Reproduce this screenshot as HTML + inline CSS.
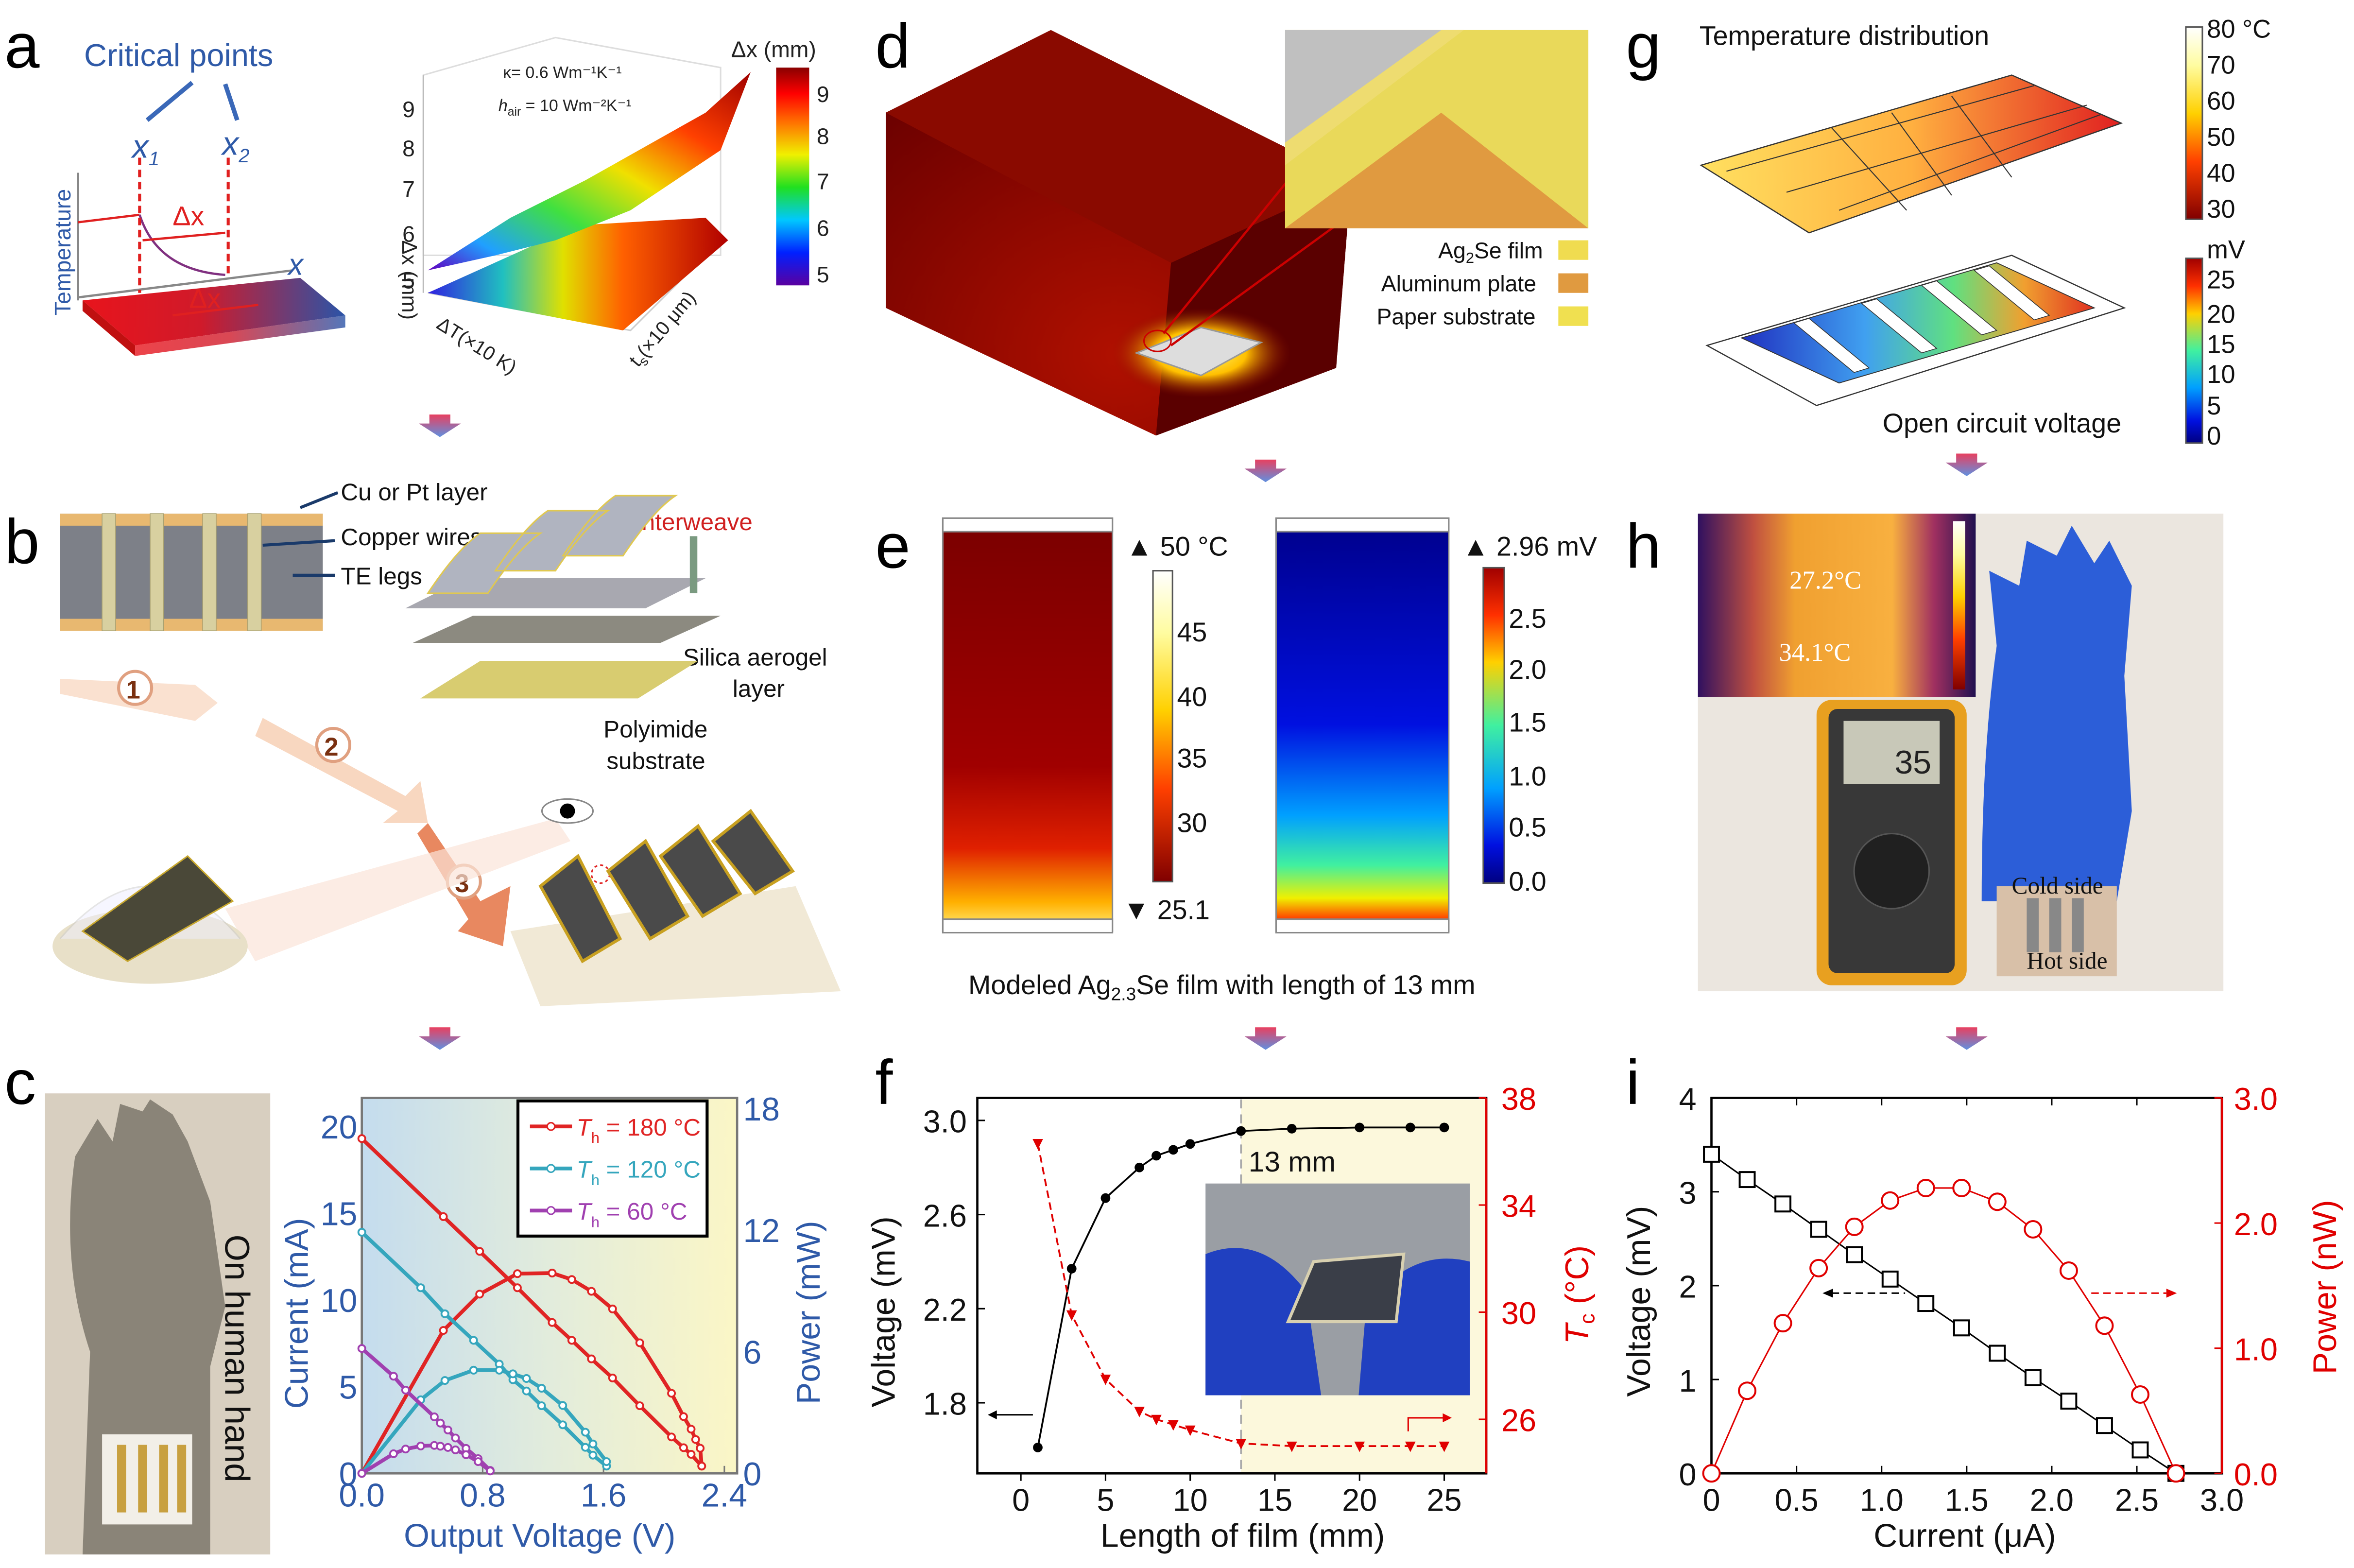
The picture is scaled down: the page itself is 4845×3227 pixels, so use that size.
<!DOCTYPE html>
<html><head><meta charset="utf-8"><style>
html,body{margin:0;padding:0;background:#fff;}
svg{display:block;font-family:"Liberation Sans",Arial,sans-serif;}
</style></head><body>
<svg id="fig" width="4845" height="3227" viewBox="0 0 1568 1044" preserveAspectRatio="none" xmlns="http://www.w3.org/2000/svg">
<defs>
<linearGradient id="slab" x1="0" x2="1"><stop offset="0" stop-color="#e8141c"/><stop offset="0.45" stop-color="#d01a2a"/><stop offset="1" stop-color="#2a54a8"/></linearGradient>
<linearGradient id="rainbow" x1="0" y1="1" x2="0" y2="0"><stop offset="0" stop-color="#5a00a0"/><stop offset="0.15" stop-color="#0020ff"/><stop offset="0.3" stop-color="#00c8ff"/><stop offset="0.45" stop-color="#20e020"/><stop offset="0.6" stop-color="#f0f000"/><stop offset="0.75" stop-color="#ff7000"/><stop offset="0.88" stop-color="#ff0000"/><stop offset="1" stop-color="#8a0000"/></linearGradient>
<linearGradient id="surf" x1="0" y1="1" x2="1" y2="0"><stop offset="0" stop-color="#6000c0"/><stop offset="0.15" stop-color="#20a0ff"/><stop offset="0.35" stop-color="#40e040"/><stop offset="0.55" stop-color="#f0e000"/><stop offset="0.75" stop-color="#ff4000"/><stop offset="1" stop-color="#a00000"/></linearGradient>
<linearGradient id="floor" x1="0" x2="1"><stop offset="0" stop-color="#3020e0"/><stop offset="0.25" stop-color="#20c0c0"/><stop offset="0.45" stop-color="#e0e000"/><stop offset="0.65" stop-color="#ff6000"/><stop offset="1" stop-color="#b00000"/></linearGradient>
<linearGradient id="vline1" x1="0" y1="0" x2="0" y2="1"><stop offset="0" stop-color="#4040c0"/><stop offset="0.4" stop-color="#40b0e0"/><stop offset="0.7" stop-color="#a0e070"/><stop offset="1" stop-color="#f08030"/></linearGradient>
<linearGradient id="cbg" x1="0" x2="1"><stop offset="0" stop-color="#c4dcee"/><stop offset="0.5" stop-color="#e2ecdc"/><stop offset="1" stop-color="#fbf6c6"/></linearGradient>
<linearGradient id="tempcol" x1="0" y1="0" x2="0" y2="1"><stop offset="0" stop-color="#7a0000"/><stop offset="0.6" stop-color="#a00000"/><stop offset="0.8" stop-color="#e02000"/><stop offset="0.93" stop-color="#ffb000"/><stop offset="1" stop-color="#fff080"/></linearGradient>
<linearGradient id="voltcol" x1="0" y1="0" x2="0" y2="1"><stop offset="0" stop-color="#00008a"/><stop offset="0.5" stop-color="#0010e0"/><stop offset="0.72" stop-color="#00a0ff"/><stop offset="0.84" stop-color="#40f0a0"/><stop offset="0.92" stop-color="#f0f000"/><stop offset="0.97" stop-color="#ff4000"/><stop offset="1" stop-color="#c00000"/></linearGradient>
<linearGradient id="cbT" x1="0" y1="0" x2="0" y2="1"><stop offset="0" stop-color="#ffffff"/><stop offset="0.2" stop-color="#fffca0"/><stop offset="0.45" stop-color="#ffd000"/><stop offset="0.7" stop-color="#ff4000"/><stop offset="1" stop-color="#800000"/></linearGradient>
<linearGradient id="cbV" x1="0" y1="0" x2="0" y2="1"><stop offset="0" stop-color="#a00000"/><stop offset="0.15" stop-color="#ff3000"/><stop offset="0.3" stop-color="#ffd000"/><stop offset="0.5" stop-color="#40f0a0"/><stop offset="0.7" stop-color="#00a0ff"/><stop offset="0.88" stop-color="#0010e0"/><stop offset="1" stop-color="#000080"/></linearGradient>
<linearGradient id="gslab1" x1="0" x2="1"><stop offset="0" stop-color="#ffe060"/><stop offset="0.5" stop-color="#ffb040"/><stop offset="1" stop-color="#e02020"/></linearGradient>
<linearGradient id="gslab2" x1="0" x2="1"><stop offset="0" stop-color="#2030c0"/><stop offset="0.35" stop-color="#40a0f0"/><stop offset="0.6" stop-color="#60e080"/><stop offset="0.8" stop-color="#f0a030"/><stop offset="1" stop-color="#e03020"/></linearGradient>
<linearGradient id="ir" x1="0" x2="1"><stop offset="0" stop-color="#301060"/><stop offset="0.2" stop-color="#c05040"/><stop offset="0.35" stop-color="#f0a030"/><stop offset="0.7" stop-color="#f8b040"/><stop offset="0.85" stop-color="#a03060"/><stop offset="1" stop-color="#201050"/></linearGradient>
<linearGradient id="arrowg" x1="0" y1="0" x2="0" y2="1"><stop offset="0" stop-color="#e84060"/><stop offset="1" stop-color="#6090e0"/></linearGradient>
<radialGradient id="glow" cx="0.5" cy="0.5" r="0.5"><stop offset="0" stop-color="#ffff80"/><stop offset="0.5" stop-color="#ffc000"/><stop offset="1" stop-color="#8a0a00" stop-opacity="0"/></radialGradient>
<radialGradient id="dred" cx="0.5" cy="0.8" r="0.8"><stop offset="0" stop-color="#b01000"/><stop offset="1" stop-color="#6a0000"/></radialGradient>
</defs>

<line x1="567" y1="20" x2="567" y2="980" stroke="url(#vline1)" stroke-width="2" stroke-dasharray="8,5"/>
<line x1="1075" y1="20" x2="1075" y2="980" stroke="url(#vline1)" stroke-width="2" stroke-dasharray="8,5"/>

<g font-size="42" fill="#000">
<text x="3" y="45">a</text>
<text x="3" y="375">b</text>
<text x="3" y="735">c</text>
<text x="583" y="45">d</text>
<text x="583" y="378">e</text>
<text x="583" y="735">f</text>
<text x="1083" y="45">g</text>
<text x="1083" y="378">h</text>
<text x="1083" y="735">i</text>
</g>

<g>
<text x="56" y="44" font-size="21" fill="#2f5aa8">Critical points</text>
<line x1="98" y1="80" x2="128" y2="55" stroke="#3a68b8" stroke-width="3"/>
<line x1="158" y1="80" x2="150" y2="56" stroke="#3a68b8" stroke-width="3"/>
<text x="88" y="105" font-size="22" font-style="italic" fill="#2f5aa8">x<tspan font-size="13" dy="5">1</tspan></text>
<text x="148" y="103" font-size="22" font-style="italic" fill="#2f5aa8">x<tspan font-size="13" dy="5">2</tspan></text>
<polygon points="55,200 200,185 230,210 90,230" fill="url(#slab)"/>
<polygon points="55,200 90,230 90,237 55,207" fill="#c01010"/>
<polygon points="90,230 230,210 230,218 90,237" fill="url(#slab)" opacity="0.8"/>
<line x1="52" y1="200" x2="52" y2="115" stroke="#888" stroke-width="1.5"/>
<line x1="52" y1="198" x2="195" y2="180" stroke="#888" stroke-width="1.5"/>
<text x="192" y="183" font-size="20" font-style="italic" fill="#2f5aa8">x</text>
<text transform="translate(47,210) rotate(-90)" font-size="15" fill="#2f5aa8">Temperature</text>
<polyline points="52,148 93,143" fill="none" stroke="#e02020" stroke-width="1.5"/>
<path d="M93,143 Q105,180 150,183" fill="none" stroke="#803080" stroke-width="1.5"/>
<line x1="93" y1="105" x2="93" y2="195" stroke="#e02020" stroke-width="2" stroke-dasharray="5,3"/>
<line x1="152" y1="105" x2="152" y2="185" stroke="#e02020" stroke-width="2" stroke-dasharray="5,3"/>
<line x1="95" y1="160" x2="150" y2="155" stroke="#e02020" stroke-width="1.5"/>
<text x="115" y="150" font-size="18" fill="#e02020">Δx</text>
<text x="126" y="205" font-size="18" fill="#e02020">Δx</text>
<line x1="115" y1="210" x2="172" y2="203" stroke="#e02020" stroke-width="1.5"/>
</g>

<g>
<polygon points="282,50 370,25 480,45 480,170 282,170" fill="none" stroke="#ddd"/>
<line x1="282" y1="50" x2="282" y2="195" stroke="#bbb"/>
<polygon points="285,195 415,210 470,155 480,160 420,220" fill="#fff" stroke="#ccc"/>
<polygon points="285,195 385,150 470,145 485,160 415,220" fill="url(#floor)"/>
<polygon points="285,180 340,145 390,120 470,75 500,48 480,100 420,140 370,160 330,170" fill="url(#surf)"/>
<g font-size="15" fill="#222">
<text x="268" y="192">5</text><text x="268" y="161">6</text><text x="268" y="131">7</text><text x="268" y="104">8</text><text x="268" y="78">9</text>
</g>
<text transform="translate(268,160) rotate(90)" font-size="14" fill="#222">Δx (mm)</text>
<text x="335" y="52" font-size="11" fill="#222">κ= 0.6 Wm⁻¹K⁻¹</text>
<text x="332" y="74" font-size="11" fill="#222"><tspan font-style="italic">h</tspan><tspan font-size="8" dy="3">air</tspan><tspan dy="-3"> = 10 Wm⁻²K⁻¹</tspan></text>
<text transform="translate(290,218) rotate(32)" font-size="13" fill="#222">ΔT(×10 K)</text>
<text transform="translate(425,245) rotate(-50)" font-size="13" fill="#222">t<tspan font-size="9" dy="3">s</tspan><tspan dy="-3">(×10 μm)</tspan></text>
<text x="487" y="38" font-size="15" fill="#222">Δx (mm)</text>
<rect x="517" y="45" width="22" height="145" fill="url(#rainbow)"/>
<g font-size="15" fill="#222"><text x="544" y="68">9</text><text x="544" y="96">8</text><text x="544" y="126">7</text><text x="544" y="157">6</text><text x="544" y="188">5</text></g>
</g>

<g fill="url(#arrowg)">
<polygon points="286,276 300,276 300,282 307,282 293,291 279,282 286,282"/>
<polygon points="286,684 300,684 300,690 307,690 293,699 279,690 286,690"/>
<polygon points="836,306 850,306 850,312 857,312 843,321 829,312 836,312"/>
<polygon points="836,684 850,684 850,690 857,690 843,699 829,690 836,690"/>
<polygon points="1303,302 1317,302 1317,308 1324,308 1310,317 1296,308 1303,308"/>
<polygon points="1303,684 1317,684 1317,690 1324,690 1310,699 1296,690 1303,690"/>
</g>

<g>
<rect x="40" y="342" width="175" height="78" fill="#7d8088"/>
<rect x="40" y="342" width="175" height="8" fill="#e8b870"/>
<rect x="40" y="412" width="175" height="8" fill="#e8b870"/>
<g fill="#d8d0a0" stroke="#a8a070" stroke-width="0.5">
<rect x="68" y="342" width="9" height="78"/><rect x="100" y="342" width="9" height="78"/><rect x="135" y="342" width="9" height="78"/><rect x="165" y="342" width="9" height="78"/>
</g>
<g font-size="16" fill="#111">
<text x="227" y="333">Cu or Pt layer</text>
<text x="227" y="363">Copper wires</text>
<text x="227" y="389">TE legs</text>
<text x="423" y="353" fill="#d02020">Interweave</text>
<text x="455" y="443">Silica aerogel</text>
<text x="488" y="464">layer</text>
<text x="402" y="491">Polyimide</text>
<text x="404" y="512">substrate</text>
</g>
<line x1="200" y1="338" x2="225" y2="328" stroke="#1a3a6a" stroke-width="2"/>
<line x1="175" y1="363" x2="223" y2="360" stroke="#1a3a6a" stroke-width="2"/>
<line x1="195" y1="383" x2="223" y2="383" stroke="#1a3a6a" stroke-width="2"/>
<polygon points="270,405 430,405 470,385 310,385" fill="#a8a8b0"/>
<polygon points="275,428 440,428 480,410 315,410" fill="#8c8a80"/>
<polygon points="280,465 425,465 465,440 320,440" fill="#d8cc70"/>
<path d="M285,395 q20,-30 35,-40 l40,0 q-15,10 -35,40 z M330,380 q20,-30 35,-40 l40,0 q-15,10 -35,40z M375,370 q20,-30 35,-40 l40,0 q-15,10 -35,40z" fill="#b0b4c0" stroke="#e0c850"/>
<line x1="462" y1="357" x2="462" y2="395" stroke="#7a9a80" stroke-width="5"/>
<g fill="#f6cdb0"><path d="M40,452 L130,456 L145,468 L130,480 L40,462 Z" opacity="0.6"/><path d="M175,478 L270,530 L280,520 L285,548 L255,548 L265,540 L170,490Z" opacity="0.8"/><path d="M285,548 L320,600 L340,590 L335,630 L305,620 L312,612 L278,555Z" fill="#e88860"/></g>
<circle cx="90" cy="458" r="11" fill="#fff" stroke="#e0a080" stroke-width="2"/><text x="84" y="465" font-size="17" font-weight="bold" fill="#7a3010">1</text>
<circle cx="222" cy="496" r="11" fill="#fff" stroke="#e0a080" stroke-width="2"/><text x="216" y="503" font-size="17" font-weight="bold" fill="#7a3010">2</text>
<circle cx="309" cy="587" r="11" fill="#fff" stroke="#e0a080" stroke-width="2"/><text x="303" y="594" font-size="17" font-weight="bold" fill="#7a3010">3</text>
<polygon points="150,605 370,545 380,560 170,640" fill="#fbe4d8" opacity="0.7"/>
<ellipse cx="100" cy="630" rx="65" ry="25" fill="#e8e0c8"/>
<path d="M40,625 q60,-70 120,0" fill="#eef" opacity="0.5" stroke="#ccc"/>
<polygon points="55,620 125,570 155,600 85,640" fill="#4a4838" stroke="#c8a830"/>
<polygon points="340,620 530,590 560,660 360,670" fill="#eee4cc" opacity="0.8"/>
<ellipse cx="378" cy="540" rx="17" ry="8" fill="#fff" stroke="#888"/><circle cx="378" cy="540" r="5" fill="#000"/>
<circle cx="400" cy="582" r="6" fill="none" stroke="#e02020" stroke-dasharray="2,2"/>
<g fill="#4a4a4a" stroke="#c8a020" stroke-width="2"><path d="M360,590 l25,-20 l28,55 l-25,15z"/><path d="M405,580 l25,-20 l28,50 l-25,15z"/><path d="M440,570 l25,-20 l28,45 l-25,15z"/><path d="M475,560 l25,-20 l28,40 l-25,15z"/></g>
</g>

<g>
<rect x="30" y="728" width="150" height="307" fill="#d8cfc0"/>
<path d="M55,1035 L60,900 Q40,840 50,770 L65,745 L75,760 L80,735 L95,740 L100,732 L115,742 L125,760 L140,800 L150,870 L140,910 L140,1035 Z" fill="#8a8478"/>
<rect x="68" y="955" width="60" height="60" fill="#f2efe8"/>
<g fill="#c8a040"><rect x="78" y="962" width="6" height="45"/><rect x="92" y="962" width="6" height="45"/><rect x="106" y="962" width="6" height="45"/><rect x="118" y="962" width="6" height="45"/></g>
<text transform="translate(150,822) rotate(90)" font-size="23" fill="#111">On human hand</text>
</g>

<g id="chartC">
<rect x="241" y="731" width="250" height="250" fill="url(#cbg)" stroke="#777" stroke-width="1.5"/>
<text transform="translate(205,938) rotate(-90)" font-size="22" fill="#2f5aa8">Current (mA)</text>
<text transform="translate(546,935) rotate(-90)" font-size="22" fill="#2f5aa8">Power (mW)</text>
<text x="269" y="1030" font-size="22" fill="#2f5aa8">Output Voltage (V)</text>
<rect x="345" y="733" width="126" height="90" fill="#fff" stroke="#000" stroke-width="2"/>
</g>

<g>
<polygon points="590,75 700,20 900,120 890,245 770,290 590,205" fill="url(#dred)"/>
<polygon points="590,75 700,20 900,120 780,175" fill="#8a0a00"/>
<polygon points="780,175 900,120 890,245 770,290" fill="#5a0000"/>
<ellipse cx="800" cy="235" rx="60" ry="30" fill="url(#glow)"/>
<polygon points="757,235 800,218 840,228 800,250" fill="#ddd" stroke="#999"/>
<ellipse cx="771" cy="227" rx="9" ry="7" fill="none" stroke="#c00"/>
<line x1="775" y1="222" x2="858" y2="120" stroke="#c00" stroke-width="1.5"/>
<line x1="780" y1="230" x2="890" y2="150" stroke="#c00" stroke-width="1.5"/>
<rect x="856" y="20" width="202" height="132" fill="#e9d95a"/>
<polygon points="856,20 960,20 856,95" fill="#c0c0c0"/>
<polygon points="856,152 960,75 1058,152" fill="#e09a40"/>
<polygon points="856,95 960,20 975,20 856,110" fill="#eedc70"/>
<g font-size="15" fill="#111">
<text x="958" y="172">Ag<tspan font-size="10" dy="3">2</tspan><tspan dy="-3">Se film</tspan></text>
<text x="920" y="194">Aluminum plate</text>
<text x="917" y="216">Paper substrate</text>
</g>
<rect x="1038" y="160" width="20" height="13" fill="#f0dc50"/>
<rect x="1038" y="182" width="20" height="13" fill="#e09a40"/>
<rect x="1038" y="204" width="20" height="13" fill="#f0e050"/>
</g>

<g>
<rect x="628" y="345" width="113" height="275" fill="url(#tempcol)" stroke="#888"/>
<rect x="628" y="345" width="113" height="9" fill="#fff" stroke="#888"/>
<rect x="628" y="612" width="113" height="9" fill="#fff" stroke="#888"/>
<rect x="850" y="345" width="115" height="275" fill="url(#voltcol)" stroke="#888"/>
<rect x="850" y="345" width="115" height="9" fill="#fff" stroke="#888"/>
<rect x="850" y="612" width="115" height="9" fill="#fff" stroke="#888"/>
<rect x="768" y="380" width="13" height="207" fill="url(#cbT)" stroke="#555"/>
<rect x="988" y="378" width="14" height="210" fill="url(#cbV)" stroke="#555"/>
<g font-size="18" fill="#111">
<text x="750" y="370">▲ 50 °C</text><text x="784" y="427">45</text><text x="784" y="470">40</text><text x="784" y="511">35</text><text x="784" y="554">30</text><text x="748" y="612">▼ 25.1</text>
<text x="974" y="370">▲ 2.96 mV</text><text x="1005" y="418">2.5</text><text x="1005" y="452">2.0</text><text x="1005" y="487">1.5</text><text x="1005" y="523">1.0</text><text x="1005" y="557">0.5</text><text x="1005" y="593">0.0</text>
</g>
<text x="645" y="662" font-size="18" fill="#111">Modeled Ag<tspan font-size="12" dy="4">2.3</tspan><tspan dy="-4">Se film with length of 13 mm</tspan></text>
</g>

<g id="chartF">
<rect x="651" y="731" width="339" height="250" fill="#fff" stroke="#000" stroke-width="1.5"/>
<text transform="translate(596,937) rotate(-90)" font-size="22" fill="#111">Voltage (mV)</text>
<text transform="translate(1058,895) rotate(-90)" font-size="22" fill="#e00000"><tspan font-style="italic">T</tspan><tspan font-size="14" dy="4">c</tspan><tspan dy="-4"> (°C)</tspan></text>
<text x="733" y="1030" font-size="22" fill="#111">Length of film (mm)</text>
</g>

<g>
<text x="1132" y="30" font-size="18" fill="#111">Temperature distribution</text>
<polygon points="1133,110 1340,50 1413,82 1205,155" fill="url(#gslab1)" stroke="#333" stroke-width="0.8"/>
<g stroke="#333" stroke-width="0.7" fill="none"><line x1="1150" y1="114" x2="1355" y2="57"/><line x1="1190" y1="128" x2="1390" y2="70"/><line x1="1225" y1="140" x2="1400" y2="76"/><line x1="1220" y1="85" x2="1270" y2="140"/><line x1="1260" y1="75" x2="1300" y2="130"/><line x1="1300" y1="64" x2="1340" y2="118"/></g>
<polygon points="1137,230 1340,170 1415,205 1210,270" fill="#fff" stroke="#333" stroke-width="0.8"/>
<polygon points="1160,225 1330,175 1395,205 1225,255" fill="url(#gslab2)" stroke="#333" stroke-width="0.6"/>
<g fill="#fff" stroke="#333" stroke-width="0.5"><polygon points="1195,215 1205,212 1245,245 1235,248"/><polygon points="1240,202 1250,199 1290,232 1280,235"/><polygon points="1280,190 1290,187 1330,220 1320,223"/><polygon points="1315,180 1325,177 1365,210 1355,213"/></g>
<text x="1254" y="288" font-size="18" fill="#111">Open circuit voltage</text>
<rect x="1456" y="18" width="11" height="128" fill="url(#cbT)" stroke="#555"/>
<g font-size="17" fill="#111"><text x="1470" y="25">80 °C</text><text x="1470" y="49">70</text><text x="1470" y="73">60</text><text x="1470" y="97">50</text><text x="1470" y="121">40</text><text x="1470" y="145">30</text></g>
<rect x="1456" y="172" width="11" height="123" fill="url(#cbV)" stroke="#555"/>
<g font-size="17" fill="#111"><text x="1470" y="172">mV</text><text x="1470" y="192">25</text><text x="1470" y="215">20</text><text x="1470" y="235">15</text><text x="1470" y="255">10</text><text x="1470" y="276">5</text><text x="1470" y="296">0</text></g>
</g>

<g>
<rect x="1131" y="342" width="350" height="318" fill="#ebe6df"/>
<rect x="1131" y="342" width="185" height="122" fill="url(#ir)"/>
<rect x="1301" y="347" width="8" height="112" fill="url(#cbT)"/>
<text x="1192" y="392" font-size="17" font-family="Liberation Serif,serif" fill="#fff">27.2°C</text>
<text x="1185" y="440" font-size="17" font-family="Liberation Serif,serif" fill="#fff">34.1°C</text>
<rect x="1210" y="466" width="100" height="190" rx="10" fill="#e8a020"/>
<rect x="1218" y="472" width="84" height="176" rx="6" fill="#383838"/>
<rect x="1228" y="480" width="64" height="42" fill="#c8c8b8"/>
<text x="1262" y="515" font-size="22" fill="#222">35</text>
<circle cx="1260" cy="580" r="25" fill="#202020" stroke="#555"/>
<path d="M1320,600 Q1320,500 1330,430 L1325,380 L1345,390 L1350,360 L1370,370 L1380,350 L1395,375 L1405,360 L1420,390 L1415,450 L1420,540 L1410,600Z" fill="#2c5ed8"/>
<rect x="1330" y="590" width="80" height="60" fill="#d8c0a8"/>
<g fill="#888"><rect x="1350" y="598" width="8" height="36"/><rect x="1365" y="598" width="8" height="36"/><rect x="1380" y="598" width="8" height="36"/></g>
<text x="1340" y="595" font-size="16" font-family="Liberation Serif,serif" fill="#111">Cold side</text>
<text x="1350" y="645" font-size="16" font-family="Liberation Serif,serif" fill="#111">Hot side</text>
</g>

<g id="chartI">
<rect x="1140" y="731" width="340" height="250" fill="#fff" stroke="#000" stroke-width="1.5"/>
<text transform="translate(1099,930) rotate(-90)" font-size="22" fill="#111">Voltage (mV)</text>
<text transform="translate(1556,915) rotate(-90)" font-size="22" fill="#e00000">Power (nW)</text>
<text x="1248" y="1030" font-size="22" fill="#111">Current (μA)</text>
</g>
</svg>

<script>
// ---------- Panel c data ----------
const cRedV = [0,0.54,0.78,1.03,1.26,1.39,1.52,1.66,1.84,2.05,2.13,2.18,2.25];
const cRedI = [19.3,14.8,12.8,10.7,8.7,7.67,6.6,5.5,3.9,2.1,1.48,1.1,0.42];
const cRedPV = [0,0.54,0.78,1.03,1.26,1.39,1.52,1.66,1.84,2.05,2.13,2.18,2.21,2.24,2.25];
const cRedP = [0,7.05,8.84,9.85,9.88,9.56,8.98,8.11,6.44,3.95,2.8,2.18,1.67,1.24,0.36];
const cTealV = [0,0.39,0.55,0.74,0.91,1.0,1.09,1.19,1.33,1.48,1.53,1.62];
const cTealI = [13.9,10.7,9.2,7.67,6.3,5.4,4.75,3.9,2.8,1.5,1.05,0.42];
const cTealP = [0,3.63,4.58,5.09,5.09,4.91,4.68,4.2,3.35,2.03,1.45,0.58];
const cPurV = [0,0.21,0.29,0.48,0.52,0.57,0.62,0.69,0.77,0.85];
const cPurI = [7.2,5.6,4.8,3.26,2.9,2.5,2.04,1.44,0.85,0.17];
const cPurPV = [0,0.21,0.29,0.39,0.48,0.52,0.57,0.62,0.69,0.77,0.85];
const cPurP = [0,0.97,1.2,1.35,1.38,1.34,1.28,1.16,0.92,0.58,0.12];
const cXTicks = ["0.0","0.8","1.6","2.4"];
const cYTicks = ["0","5","10","15","20"];
const cY2Ticks = ["0","6","12","18"];
const cLegend = ["180","120","60"];
// ---------- Panel f data ----------
const fLen = [1,3,5,7,8,9,10,13,16,20,23,25];
const fVolt = [1.61,2.37,2.67,2.80,2.85,2.875,2.90,2.955,2.965,2.97,2.97,2.97];
const fTempLen = [1,3,5,7,8,9,10,13,16,20,23,25];
const fTemp = [36.3,29.9,27.5,26.3,26.0,25.8,25.6,25.1,25.0,25.0,25.0,25.0];
const fXTicks = ["0","5","10","15","20","25"];
const fYTicks = ["1.8","2.2","2.6","3.0"];
const fY2Ticks = ["26","30","34","38"];
// ---------- Panel i data ----------
const iCur = [0,0.21,0.42,0.63,0.84,1.05,1.26,1.47,1.68,1.89,2.1,2.31,2.52,2.73];
const iVolt = [3.40,3.13,2.87,2.60,2.33,2.07,1.81,1.55,1.28,1.02,0.77,0.51,0.25,0];
const iPow = [0,0.66,1.20,1.64,1.97,2.18,2.28,2.28,2.17,1.95,1.62,1.18,0.63,0];
const iXTicks = ["0","0.5","1.0","1.5","2.0","2.5","3.0"];
const iYTicks = ["0","1","2","3","4"];
const iY2Ticks = ["0.0","1.0","2.0","3.0"];

const NS = "http://www.w3.org/2000/svg";
function mk(tag, attrs, parent){ const e=document.createElementNS(NS,tag); for(const k in attrs) e.setAttribute(k,attrs[k]); parent.appendChild(e); return e; }
function lin(d0,d1,r0,r1){ return v => r0 + (v-d0)*(r1-r0)/(d1-d0); }

// ===== chart c =====
(function(){
  const g = document.getElementById('chartC');
  const x = lin(0,2.4,241,482.5), y = lin(0,20,981,750), y2 = lin(0,18,981,738);
  cXTicks.forEach(t=>{ const v=parseFloat(t);
    const tk=mk('line',{x1:x(v),x2:x(v),y1:981,y2:976,stroke:'#777'},g);
    
    
    const tx=mk('text',{x:x(v),y:1003,'font-size':22,fill:'#2f5aa8','text-anchor':'middle'},g); tx.textContent=t;
    
     });
  cYTicks.forEach(t=>{ const v=parseFloat(t);
    const tx=mk('text',{x:238,y:y(v)+8,'font-size':22,fill:'#2f5aa8','text-anchor':'end'},g); tx.textContent=t;
    
     });
  cY2Ticks.forEach(t=>{ const v=parseFloat(t);
    const tx=mk('text',{x:495,y:y2(v)+8,'font-size':22,fill:'#2f5aa8'},g); tx.textContent=t;
    
     });
  const series=[[cRedV,cRedI,cRedPV,cRedP,'#e02424','red'],[cTealV,cTealI,cTealV,cTealP,'#35a6bd','teal'],[cPurV,cPurI,cPurPV,cPurP,'#a040b0','purple']];
  series.forEach(s=>{
    const [vv,ii,pv,pp,col,nm]=s;
    const l1=mk('polyline',{points:vv.map((v,k)=>x(v)+','+y(ii[k])).join(' '),fill:'none',stroke:col,'stroke-width':2.5},g);
    
    
    const l2=mk('polyline',{points:pv.map((v,k)=>x(v)+','+y2(pp[k])).join(' '),fill:'none',stroke:col,'stroke-width':2.5},g);
    
    
    vv.forEach((v,k)=>{
      const c1=mk('circle',{cx:x(v),cy:y(ii[k]),r:2.3,fill:'#fff',stroke:col,'stroke-width':1.2},g);
      
      
    });
    pv.forEach((v,k)=>{
      const c2=mk('circle',{cx:x(v),cy:y2(pp[k]),r:2.3,fill:'#fff',stroke:col,'stroke-width':1.2},g);
      
      
    });
  });
  const lc=['#e02424','#35a6bd','#a040b0'];
  cLegend.forEach((t,k)=>{
    const yy=750+k*28;
    mk('line',{x1:353,x2:381,y1:yy,y2:yy,stroke:lc[k],'stroke-width':2.5},g);
    mk('circle',{cx:367,cy:yy,r:2.5,fill:'#fff',stroke:lc[k]},g);
    const tx=mk('text',{x:384,y:yy+6,'font-size':16,fill:lc[k]},g);
    tx.innerHTML='<tspan font-style="italic">T</tspan><tspan font-size="10" dy="5">h</tspan><tspan dy="-5"> = '+t+' °C</tspan>';
    
    
  });
})();

// ===== chart f =====
(function(){
  const g = document.getElementById('chartF');
  const x = lin(0,25,680,962), y = lin(1.8,3.0,934,746), y2 = lin(26,38,945,731);
  const shade=mk('rect',{x:x(13),y:732,width:989-x(13),height:248,fill:'#fcf8dc'},g);
  
  
  const vl=mk('line',{x1:x(13),x2:x(13),y1:732,y2:980,stroke:'#aaa','stroke-dasharray':'6,4','stroke-width':1.2},g);
  
  
  const lab=mk('text',{x:x(13)+5,y:780,'font-size':19,fill:'#111'},g); lab.textContent='13 mm';
  
  
  const ph=mk('rect',{x:803,y:788,width:176,height:141,fill:'#9a9ea4'},g);
  
  
  mk('path',{d:'M803,835 Q840,820 870,860 L880,929 L803,929Z M979,840 Q940,830 910,870 L905,929 L979,929Z',fill:'#2040c0'},g);
  mk('polygon',{points:'858,880 875,840 935,835 930,880',fill:'#3a3e48',stroke:'#d8d0b0','stroke-width':2},g);
  fXTicks.forEach(t=>{ const v=parseFloat(t);
    mk('line',{x1:x(v),x2:x(v),y1:981,y2:986,stroke:'#000'},g);
    const tx=mk('text',{x:x(v),y:1006,'font-size':21,fill:'#111','text-anchor':'middle'},g); tx.textContent=t;
    
     });
  fYTicks.forEach(t=>{ const v=parseFloat(t);
    mk('line',{x1:651,x2:656,y1:y(v),y2:y(v),stroke:'#000'},g);
    const tx=mk('text',{x:644,y:y(v)+8,'font-size':21,fill:'#111','text-anchor':'end'},g); tx.textContent=t;
    
     });
  mk('line',{x1:990,x2:990,y1:731,y2:981,stroke:'#e00000','stroke-width':1.5},g);
  fY2Ticks.forEach(t=>{ const v=parseFloat(t);
    mk('line',{x1:990,x2:985,y1:y2(v),y2:y2(v),stroke:'#e00000'},g);
    const tx=mk('text',{x:1000,y:y2(v)+8,'font-size':21,fill:'#e00000'},g); tx.textContent=t;
    
     });
  const l1=mk('polyline',{points:fLen.map((v,k)=>x(v)+','+y(fVolt[k])).join(' '),fill:'none',stroke:'#000','stroke-width':1.2},g);
  
  
  const l2=mk('polyline',{points:fTempLen.map((v,k)=>x(v)+','+y2(fTemp[k])).join(' '),fill:'none',stroke:'#e00000','stroke-width':1.2,'stroke-dasharray':'5,3'},g);
  
  
  fLen.forEach((v,k)=>{
    const c=mk('circle',{cx:x(v),cy:y(fVolt[k]),r:3.2,fill:'#000'},g);
    
     });
  fTempLen.forEach((v,k)=>{ const cx=x(v), cy=y2(fTemp[k]);
    const t=mk('polygon',{points:(cx-3.5)+','+(cy-3)+' '+(cx+3.5)+','+(cy-3)+' '+cx+','+(cy+4),fill:'#e00000'},g);
    
     });
  mk('line',{x1:660,x2:688,y1:942,y2:942,stroke:'#000'},g);
  mk('polygon',{points:'658,942 664,939 664,945',fill:'#000'},g);
  mk('polyline',{points:'938,953 938,944 963,944',fill:'none',stroke:'#e00000'},g);
  mk('polygon',{points:'967,944 961,941 961,947',fill:'#e00000'},g);
})();

// ===== chart i =====
(function(){
  const g = document.getElementById('chartI');
  const x = lin(0,3,1140,1480), y = lin(0,4,981,731), y2 = lin(0,3,981,731);
  iXTicks.forEach(t=>{ const v=parseFloat(t);
    mk('line',{x1:x(v),x2:x(v),y1:981,y2:976,stroke:'#000'},g);
    mk('line',{x1:x(v),x2:x(v),y1:731,y2:736,stroke:'#000'},g);
    const tx=mk('text',{x:x(v),y:1006,'font-size':21,fill:'#111','text-anchor':'middle'},g); tx.textContent=t;
    
     });
  iYTicks.forEach(t=>{ const v=parseFloat(t);
    mk('line',{x1:1140,x2:1145,y1:y(v),y2:y(v),stroke:'#000'},g);
    const tx=mk('text',{x:1130,y:y(v)+8,'font-size':21,fill:'#111','text-anchor':'end'},g); tx.textContent=t;
    
     });
  mk('line',{x1:1480,x2:1480,y1:731,y2:981,stroke:'#e00000','stroke-width':1.5},g);
  iY2Ticks.forEach(t=>{ const v=parseFloat(t);
    mk('line',{x1:1480,x2:1475,y1:y2(v),y2:y2(v),stroke:'#e00000'},g);
    const tx=mk('text',{x:1488,y:y2(v)+8,'font-size':21,fill:'#e00000'},g); tx.textContent=t;
    
     });
  const l1=mk('polyline',{points:iCur.map((v,k)=>x(v)+','+y(iVolt[k])).join(' '),fill:'none',stroke:'#000','stroke-width':1},g);
  
  
  const l2=mk('polyline',{points:iCur.map((v,k)=>x(v)+','+y2(iPow[k])).join(' '),fill:'none',stroke:'#e00000','stroke-width':1},g);
  
  
  iCur.forEach((v,k)=>{
    const s=mk('rect',{x:x(v)-5,y:y(iVolt[k])-5,width:10,height:10,fill:'#fff',stroke:'#000','stroke-width':1.3},g);
    
    
    const c=mk('circle',{cx:x(v),cy:y2(iPow[k]),r:5.5,fill:'#fff',stroke:'#e00000','stroke-width':1.3},g);
    
    
  });
  mk('line',{x1:1220,x2:1269,y1:861,y2:861,stroke:'#000','stroke-dasharray':'5,3'},g);
  mk('polygon',{points:'1214,861 1221,858 1221,864',fill:'#000'},g);
  mk('line',{x1:1393,x2:1443,y1:861,y2:861,stroke:'#e00000','stroke-dasharray':'5,3'},g);
  mk('polygon',{points:'1450,861 1443,858 1443,864',fill:'#e00000'},g);
})();
</script>
</body></html>
